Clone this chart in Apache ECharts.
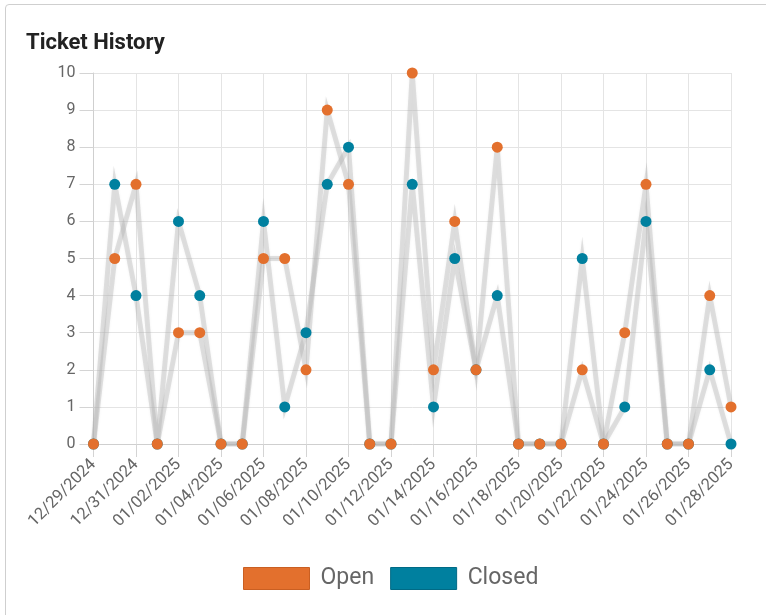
<!DOCTYPE html>
<html>
<head>
<meta charset="utf-8">
<script src="https://cdn.jsdelivr.net/npm/echarts@6/dist/echarts.min.js"></script>
<style>
  html, body { margin: 0; padding: 0; background: #fff; }
  .card {
    position: absolute; left: 5px; top: 4px; width: 800px; height: 700px;
    border: 1px solid #cfcfcf; border-radius: 4px; box-sizing: border-box;
  }
  #chart { position: absolute; left: 0; top: 0; width: 766px; height: 615px; }
</style>
</head>
<body>
<div class="card"></div>
<div id="chart"></div>
<script>
// days shown on the x axis
const dates = [
  '12/29/2024', '12/30/2024', '12/31/2024', '01/01/2025', '01/02/2025', '01/03/2025',
  '01/04/2025', '01/05/2025', '01/06/2025', '01/07/2025', '01/08/2025', '01/09/2025',
  '01/10/2025', '01/11/2025', '01/12/2025', '01/13/2025', '01/14/2025', '01/15/2025',
  '01/16/2025', '01/17/2025', '01/18/2025', '01/19/2025', '01/20/2025', '01/21/2025',
  '01/22/2025', '01/23/2025', '01/24/2025', '01/25/2025', '01/26/2025', '01/27/2025',
  '01/28/2025'
]
const openTickets = [0, 5, 7, 0, 3, 3, 0, 0, 5, 5, 2, 9, 7, 0, 0, 10, 2, 6, 2, 8, 0, 0, 0, 2, 0, 3, 7, 0, 0, 4, 1]
const closedTickets = [0, 7, 4, 0, 6, 4, 0, 0, 6, 1, 3, 7, 8, 0, 0, 7, 1, 5, 2, 4, 0, 0, 0, 5, 0, 1, 6, 0, 0, 2, 0]

const orange = '#e3702d'
const teal = '#00809f'
const gridColor = '#e4e4e4'
const tickColor = '#d4d4d4'
const labelColor = '#666'

let lineStyle = {
  color: 'rgba(185,185,185,0.42)',
  width: 5,
  join: 'miter',
  miterLimit: 10,
  shadowColor: 'rgba(0,0,0,0.12)',
  shadowBlur: 3
}

function makeSeries (name, data, color) {
  return {
    name: name,
    type: 'line',
    data: data,
    symbol: 'circle',
    symbolSize: 11,
    itemStyle: { color: color },
    lineStyle: lineStyle,
    emphasis: { disabled: true }
  }
}

let myChart = echarts.init(document.getElementById('chart'))
let option = {
  animation: false,
  textStyle: { fontFamily: 'Roboto' },
  title: {
    text: 'Ticket History',
    left: 21,
    top: 27,
    textStyle: { fontSize: 22, fontWeight: 'bold', color: '#222', fontFamily: 'Roboto' }
  },
  legend: {
    left: 243,
    top: 567,
    padding: 0,
    icon: 'rect',
    itemWidth: 66,
    itemHeight: 22,
    itemGap: 16,
    textStyle: { fontSize: 23, color: labelColor, fontFamily: 'Roboto', padding: [0, 0, 0, 6] },
    data: [
      { name: 'Open', itemStyle: { color: orange, borderColor: '#c95f22', borderWidth: 1 } },
      { name: 'Closed', itemStyle: { color: teal, borderColor: '#006a85', borderWidth: 1 } }
    ]
  },
  grid: {
    left: 93.5,
    right: 35,
    top: 73,
    bottom: 171
  },
  xAxis: {
    type: 'category',
    boundaryGap: false,
    data: dates,
    axisLine: { show: true, lineStyle: { color: '#cfcfcf' } },
    axisTick: { show: true, alignWithLabel: true, interval: 1, length: 13, lineStyle: { color: tickColor, width: 1 } },
    axisLabel: { interval: 1, rotate: 45, fontSize: 16.5, color: labelColor, margin: 18 },
    splitLine: { show: true, interval: 1, lineStyle: { color: gridColor } }
  },
  yAxis: {
    type: 'value',
    min: 0,
    max: 10,
    interval: 1,
    axisLine: { show: true, lineStyle: { color: '#cfcfcf' } },
    axisTick: { show: true, inside: false, length: 14, lineStyle: { color: tickColor, width: 1 } },
    axisLabel: { fontSize: 16, color: labelColor, margin: 18 },
    splitLine: { lineStyle: { color: gridColor } }
  },
  series: [
    makeSeries('Closed', closedTickets, teal),
    makeSeries('Open', openTickets, orange)
  ]
}
myChart.setOption(option)
</script>
</body>
</html>
